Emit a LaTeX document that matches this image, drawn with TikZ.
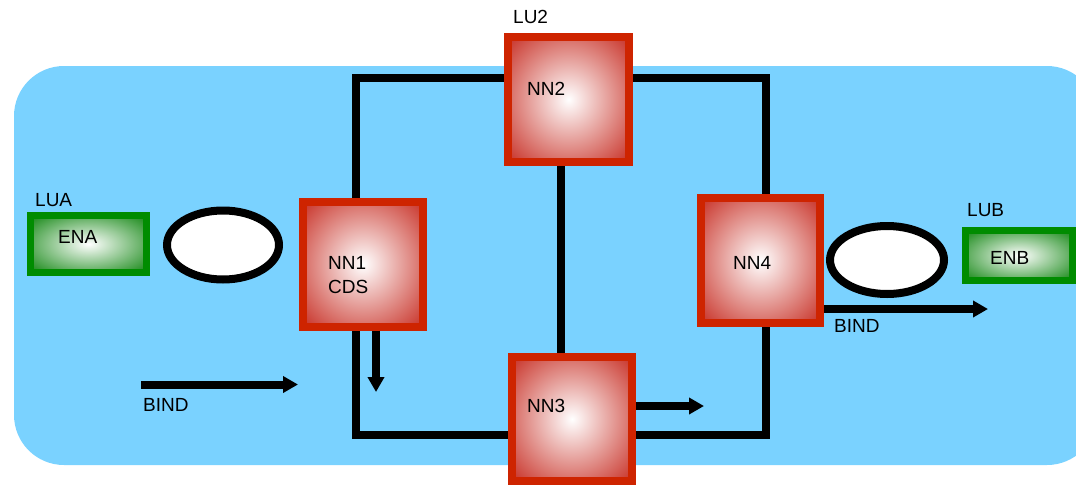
\documentclass[tikz,border=0pt]{standalone}
\usepackage{fontspec}
\setmainfont{Liberation Sans}
\usetikzlibrary{arrows.meta,shapes.geometric}
\definecolor{bgblue}{RGB}{122,210,255}
\definecolor{boxred}{RGB}{206,36,0}
\definecolor{boxgreen}{RGB}{0,140,0}
\pgfdeclareradialshading{redball}{\pgfpoint{0bp}{0bp}}{color(0bp)=(white); color(35bp)=(rgb,255:red,200;green,50;blue,40); color(50bp)=(rgb,255:red,200;green,50;blue,40)}
\pgfdeclareradialshading{greenball}{\pgfpoint{0bp}{0bp}}{color(0bp)=(white); color(35bp)=(rgb,255:red,20;green,135;blue,20); color(50bp)=(rgb,255:red,20;green,135;blue,20)}
\tikzset{
  nnbox/.style={draw=boxred, line width=8pt, shading=redball, minimum width=120pt, minimum height=125pt, inner sep=0pt},
  enbox/.style={draw=boxgreen, line width=7pt, shading=greenball, inner sep=0pt},
  ring/.style={ellipse, draw=black, line width=8pt, fill=white, inner sep=0pt},
  loopline/.style={draw=black, line width=8pt},
  bindarrow/.style={draw=black, line width=8pt, -{Triangle[length=15pt,width=16pt]}},
  txt/.style={font=\fontsize{19}{22}\selectfont, inner sep=0pt, anchor=west},
}
\begin{document}
\begin{tikzpicture}[x=1pt,y=-1pt]
\useasboundingbox (0,0) rectangle (1076,485);
% background
\fill[bgblue, rounded corners=50pt] (14,66) rectangle (1097,465);

% coordinates for loop corners
\coordinate (c1) at (356,78);
\coordinate (c2) at (766,78);
\coordinate (c3) at (766,435);
\coordinate (c4) at (356,435);

% boxes (positions)
\path (363,264) coordinate (p1);
\path (568.5,99.5) coordinate (p2);
\path (572,419) coordinate (p3);
\path (760.5,260.5) coordinate (p4);

% loop lines first
\draw[loopline] (c1 |- p1) -- (c1) -- (c1 -| p2);
\draw[loopline] (c2 -| p2) -- (c2) -- (c2 |- p4);
\draw[loopline] (c3 |- p4) -- (c3) -- (c3 -| p3);
\draw[loopline] (c4 -| p3) -- (c4) -- (c4 |- p1);
\draw[loopline] (561,99.5) -- (561,419);

% NN boxes
\node[nnbox] (NN1) at (p1) {};
\node[nnbox, minimum width=121pt] (NN2) at (p2) {};
\node[nnbox, minimum height=124pt] (NN3) at (p3) {};
\node[nnbox, minimum width=119pt] (NN4) at (p4) {};

% green boxes
\node[enbox, minimum width=116pt, minimum height=57pt] (ENA) at (88.5,244) {};
\node[enbox, minimum width=107pt, minimum height=50pt] (ENB) at (1019,255.5) {};

% ellipses
\node[ring, minimum width=112pt, minimum height=69pt] (E1) at (223,245) {};
\node[ring, minimum width=114pt, minimum height=68pt] (E2) at (887,260) {};

% arrows
\coordinate (a1s) at (141,384.5);
\coordinate (a1e) at (298,384.5);
\draw[bindarrow] (a1s) -- (a1e);
\coordinate (a2e) at (376,392);
\draw[bindarrow] (NN1.south -| a2e) -- (a2e);
\coordinate (a3e) at (704,406);
\draw[bindarrow] (NN3.east |- a3e) -- (a3e);
\coordinate (a4e) at (988,309);
\draw[bindarrow] (NN4.east |- a4e) -- (a4e);

% texts
\node[txt] (tLUA) at (35,200) {LUA};
\node[txt] (tENA) at (58,237) {ENA};
\node[txt] (tLU2) at (513,17) {LU2};
\node[txt] (tNN2) at (527,89) {NN2};
\node[txt] (tNN1) at (328,263) {NN1};
\node[txt] (tCDS) at (328,287) {CDS};
\node[txt] (tNN3) at (527,406) {NN3};
\node[txt] (tNN4) at (733,263) {NN4};
\node[txt] (tLUB) at (967,210) {LUB};
\node[txt] (tENB) at (990,258) {ENB};
\node[txt] (tB1) at (143,404.5) {BIND};
\node[txt] (tB2) at (834,326) {BIND};
\end{tikzpicture}
\end{document}
